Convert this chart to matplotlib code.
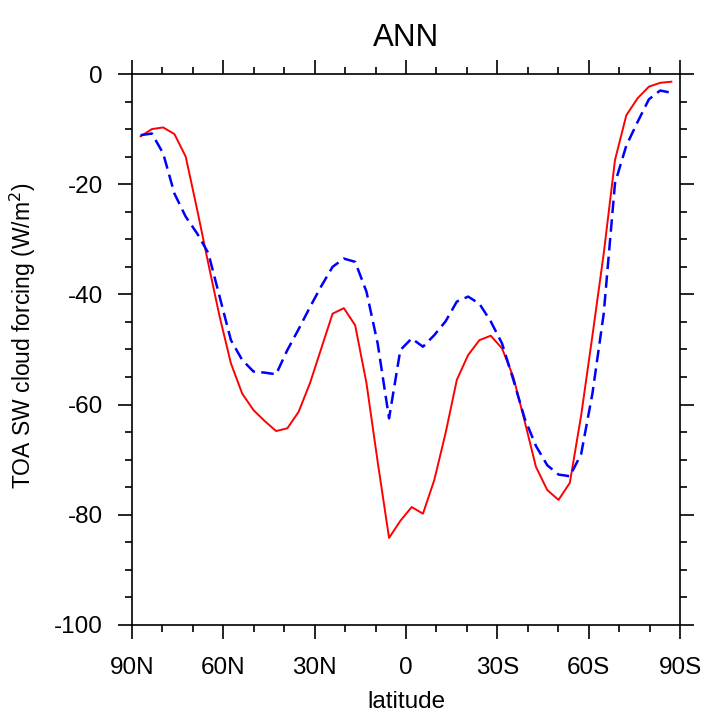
import numpy as np
import matplotlib
matplotlib.use('Agg')
import matplotlib.pyplot as plt
from matplotlib.ticker import MultipleLocator

plt.rcParams['font.family'] = ['Liberation Sans', 'DejaVu Sans']

# gaussian latitudes (48 points, north to south)
lat_north = [87.16, 83.48, 79.78, 76.07, 72.36, 68.65, 64.94, 61.23,
             57.52, 53.81, 50.10, 46.39, 42.68, 38.97, 35.26, 31.54,
             27.83, 24.12, 20.41, 16.70, 12.99, 9.28, 5.57, 1.86]
lat = lat_north + [-v for v in lat_north[::-1]]

# model (red, solid)
swcf_model = [-11.3, -10.0, -9.7, -10.9, -15.0, -24.5, -34.4, -44.0,
              -52.5, -58.0, -61.0, -63.0, -64.8, -64.3, -61.3, -56.1,
              -49.8, -43.5, -42.5, -45.6, -56.1, -70.5, -84.2, -81.1,
              -78.6, -79.8, -73.7, -65.2, -55.5, -51.0, -48.3, -47.5,
              -49.8, -55.0, -63.0, -71.3, -75.5, -77.3, -74.2, -62.0,
              -47.5, -32.6, -15.6, -7.5, -4.4, -2.3, -1.6, -1.4]

# observations (blue, dashed)
swcf_obs = [-11.1, -10.8, -14.4, -21.7, -25.9, -28.9, -32.5, -40.4,
            -48.3, -51.9, -54.0, -54.2, -54.5, -50.1, -46.3, -42.3,
            -38.5, -35.0, -33.5, -34.1, -39.5, -49.0, -62.5, -50.1,
            -48.0, -49.5, -47.4, -44.9, -41.3, -40.4, -41.7, -44.9,
            -48.9, -55.5, -62.5, -67.5, -71.0, -72.7, -73.0, -69.0,
            -58.0, -43.5, -19.8, -13.0, -8.7, -4.6, -3.0, -3.4]

xticks = [90, 60, 30, 0, -30, -60, -90]
xticklabels = ['90N', '60N', '30N', '0', '30S', '60S', '90S']
yticks = [0, -20, -40, -60, -80, -100]

fig = plt.figure(figsize=(7.09, 7.15), dpi=100)
ax = fig.add_axes([0.1862, 0.1259, 0.7729, 0.7706])

ax.plot(lat, swcf_model, color='red', lw=1.4)
ax.plot(lat, swcf_obs, color='blue', lw=1.8, ls=(0, (5, 2.5)))

ax.set_xlim(90, -90)
ax.set_ylim(-100, 0)
ax.set_xticks(xticks)
ax.set_xticklabels(xticklabels)
ax.set_yticks(yticks)
ax.set_yticklabels([str(v) for v in yticks])
ax.xaxis.set_minor_locator(MultipleLocator(10))
ax.yaxis.set_minor_locator(MultipleLocator(5))

for s in ax.spines.values():
    s.set_linewidth(1.2)
ax.tick_params(which='both', direction='out', top=True, right=True,
               width=1.2, labelsize=17.5)
ax.tick_params(which='major', length=10)
ax.tick_params(which='minor', length=5)
ax.tick_params(axis='y', pad=11)
ax.tick_params(axis='x', pad=13)

ax.set_title('ANN', fontsize=22.5, pad=20)
ax.set_xlabel('latitude', fontsize=17.5, labelpad=9)
ax.set_ylabel('TOA SW cloud forcing (W/m$^2$)', fontsize=16.5)
ax.yaxis.set_label_coords(-0.171, 0.525)

plt.savefig('out.png', dpi=100)
